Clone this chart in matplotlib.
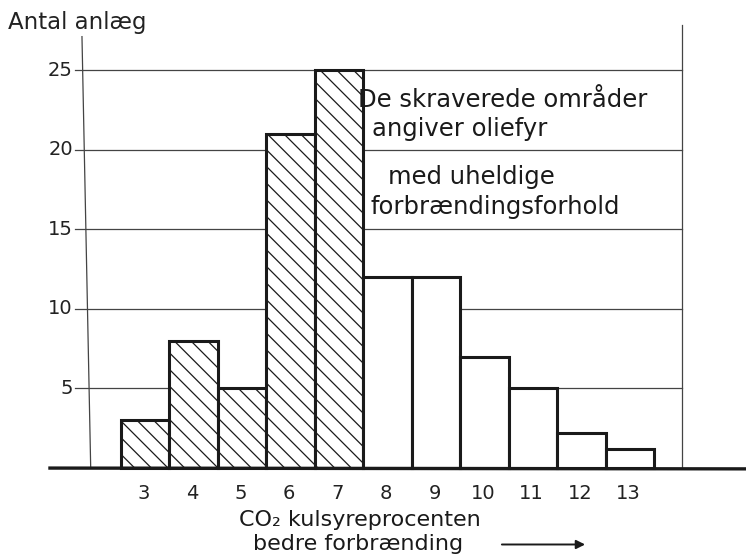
import matplotlib
matplotlib.use("Agg")
import matplotlib.pyplot as plt

# data
co2 = [3, 4, 5, 6, 7, 8, 9, 10, 11, 12, 13]
antal = [3, 8, 5, 21, 25, 12, 12, 7, 5, 2.2, 1.2]
skraveret = [True, True, True, True, True, False, False, False, False, False, False]
y_ticks = [5, 10, 15, 20, 25]

plt.rcParams['font.family'] = ['DejaVu Sans']
plt.rcParams['hatch.linewidth'] = 0.9
plt.rcParams['hatch.color'] = '#222222'

fig = plt.figure(figsize=(7.46, 5.55), dpi=100)
ax = fig.add_axes([0, 0, 1, 1])
ax.set_xlim(0.01, 15.39)
ax.set_ylim(-5.46, 29.4)
ax.axis('off')

x_left, x_right = 1.76, 14.07

# gitterlinier
for v in y_ticks:
    ax.plot([x_left - 0.2, x_right], [v, v], color='#444444', lw=0.9, zorder=1)
    ax.text(x_left - 0.25, v, str(v), ha='right', va='center', fontsize=14, color='#222222')

# lodrette linier
ax.plot([x_left - 0.06, x_left + 0.12], [27.1, 0], color='#444444', lw=0.9, zorder=1)
ax.plot([x_right, x_right], [27.8, 0], color='#444444', lw=0.9, zorder=1)

# søjler
for x, v, s in zip(co2, antal, skraveret):
    ax.bar(x, v, width=1.0, facecolor='white', edgecolor='#1a1a1a', linewidth=2.2,
           hatch='\\\\' if s else None, zorder=3)

# grundlinie
ax.plot([1.04, 15.39], [0, -0.05], color='#1a1a1a', lw=2.4, zorder=4)

for x in co2:
    ax.text(x - 0.03, -1.6, str(x), ha='center', va='center', fontsize=14, color='#222222')

ax.text(0.18, 28.0, "Antal anlæg", ha='left', va='center', fontsize=16.5, color='#222222')

note = [("De skraverede områder", 7.39, 23.1),
        ("angiver oliefyr", 7.68, 21.3),
        ("med uheldige", 8.0, 18.3),
        ("forbrændingsforhold", 7.64, 16.4)]
for txt, x, y in note:
    ax.text(x, y, txt, ha='left', va='center', fontsize=17.5, color='#1a1a1a')

ax.text(4.94, -3.27, "CO₂ kulsyreprocenten", ha='left', va='center', fontsize=16, color='#1a1a1a')
ax.text(5.23, -4.75, "bedre forbrænding", ha='left', va='center', fontsize=16, color='#1a1a1a')
ax.annotate("", xy=(12.13, -4.8), xytext=(10.3, -4.8),
            arrowprops=dict(arrowstyle='-|>', color='#1a1a1a', lw=1.4, mutation_scale=13))

fig.savefig("out.png", dpi=100)
